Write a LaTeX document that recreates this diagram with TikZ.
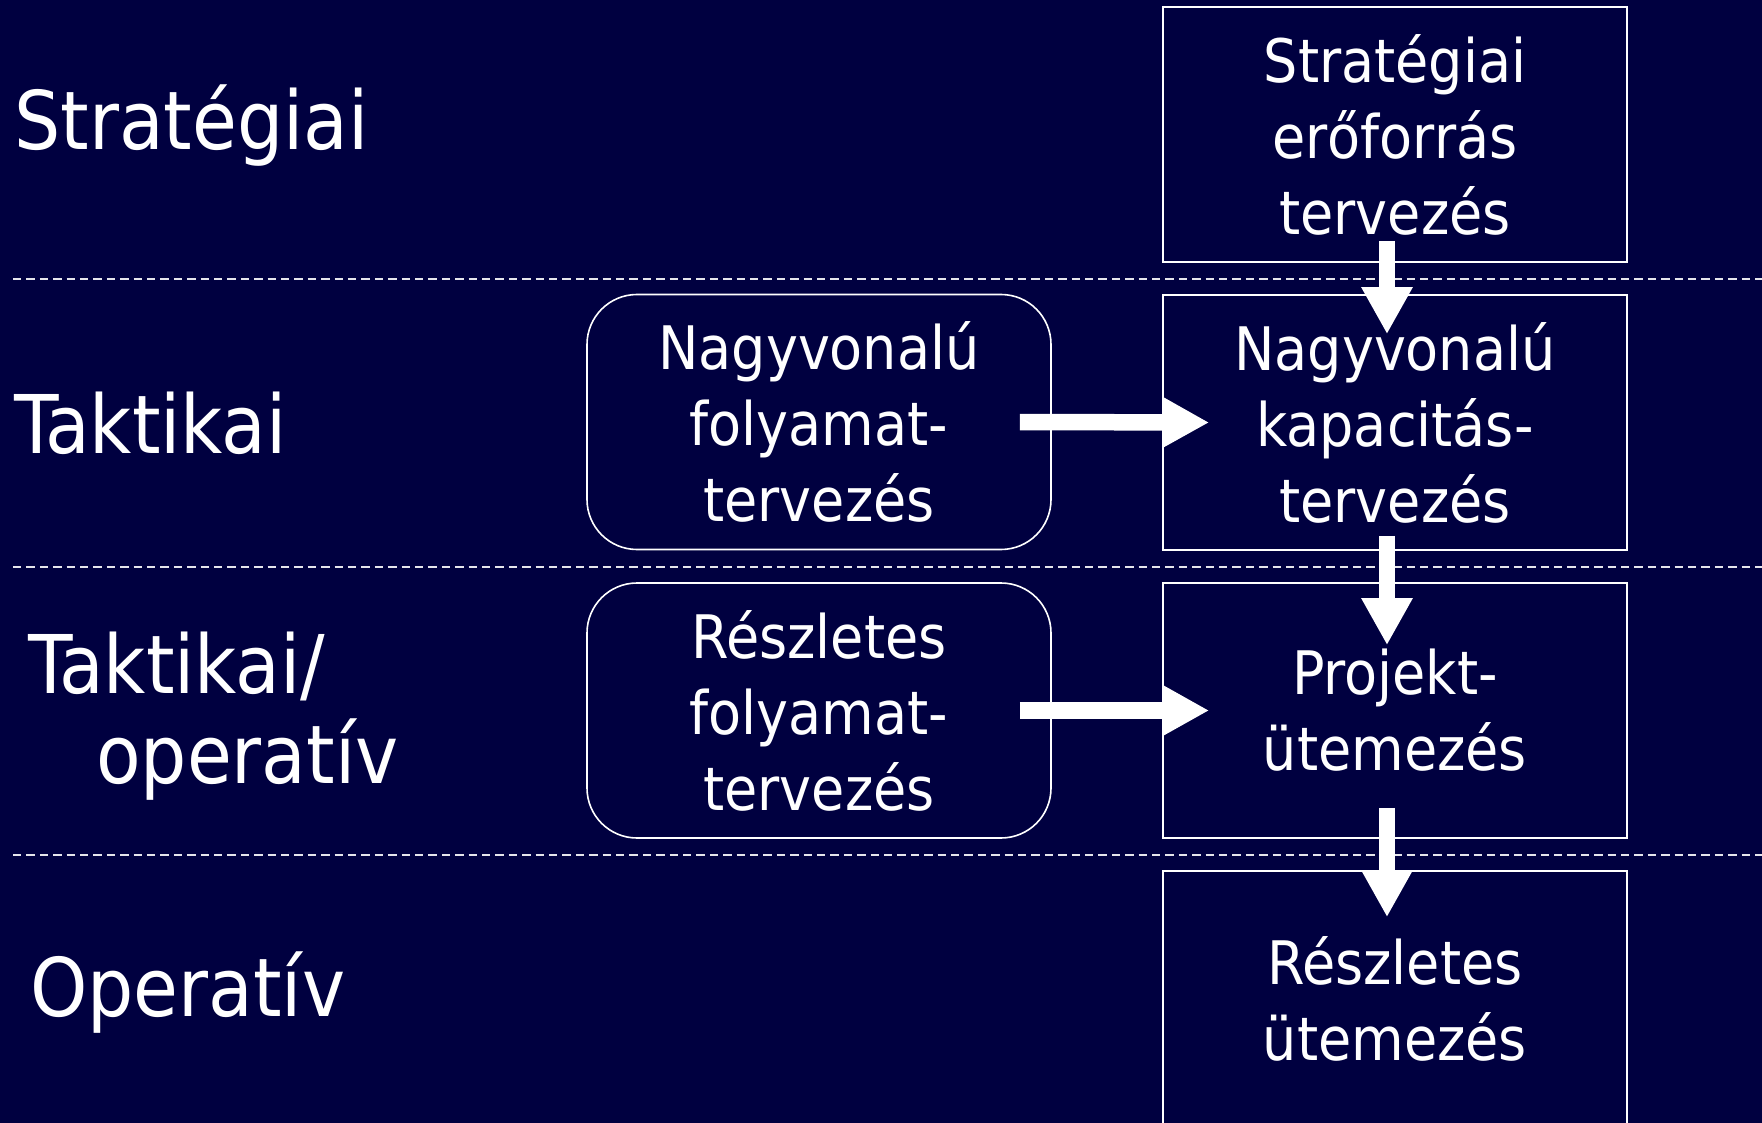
\documentclass[tikz,border=0pt]{standalone}
\usepackage{fontspec}
\setmainfont{DejaVu Sans Condensed}
\usetikzlibrary{arrows.meta}
\definecolor{navy}{RGB}{0,0,64}
\begin{document}
\begin{tikzpicture}[x=1pt,y=-1pt,
  levelbox/.style={draw=white,line width=1.6pt,minimum width=464pt,minimum height=255pt,
    inner sep=0pt,align=center,text=white,font=\fontsize{60}{76}\selectfont},
  procbox/.style={levelbox,rounded corners=50pt},
  levellabel/.style={anchor=base west,inner sep=0pt,text=white,font=\fontsize{81}{90}\selectfont},
  separator/.style={draw=white!90!navy,line width=1.8pt,dash pattern=on 8.3pt off 5.1pt},
  flow/.style={draw=white,line width=16.5pt,-{Triangle[width=48pt,length=47pt]}}]
  % background and page frame
  \fill[navy] (0,0) rectangle (1762,1123);
  \useasboundingbox (0,0) rectangle (1762,1123);

  % level separators
  \draw[separator] (13,279) -- (1762,279);
  \draw[separator] (13,567) -- (1762,567);
  \draw[separator] (13,855) -- (1762,855);

  % level names
  \node[levellabel] (lstrat) at (14,150) {Stratégiai};
  \node[levellabel] (ltakt) at (14,453) {Taktikai};
  \node[levellabel] (ltakto) at (28,693) {Taktikai/};
  \node[levellabel] (lopera) at (96,783) {operatív};
  \node[levellabel] (loper) at (30,1016) {Operatív};

  % planning chain
  \node[levelbox] (c1) at (1395,134.5) {Stratégiai\\erőforrás\\tervezés};
  \node[levelbox] (c2) at (1395,422.5) {Nagyvonalú\\kapacitás-\\tervezés};
  \node[levelbox] (c3) at (1395,710.5) {Projekt-\\ütemezés};
  \node[levelbox] (c4) at (1395,998.5) {Részletes\\ütemezés};

  % process planning
  \node[procbox] (r1) at (819,422) {Nagyvonalú\\folyamat-\\tervezés};
  \node[procbox] (r2) at (819,710.5) {Részletes\\folyamat-\\tervezés};

  % arrows
  \draw[flow] ([xshift=-8pt,yshift=22pt]c1.south) -- ([xshift=-8pt,yshift=-40pt]c2.north);
  \draw[flow] ([xshift=-8pt,yshift=15pt]c2.south) -- ([xshift=-8pt,yshift=-63pt]c3.north);
  \draw[flow] ([xshift=-8pt,yshift=31pt]c3.south) -- ([xshift=-8pt,yshift=-47pt]c4.north);
  \draw[flow] ([xshift=-32pt]r1.east) -- ([xshift=47pt]c2.west);
  \draw[flow] ([xshift=-32pt]r2.east) -- ([xshift=47pt]c3.west);
\end{tikzpicture}
\end{document}
